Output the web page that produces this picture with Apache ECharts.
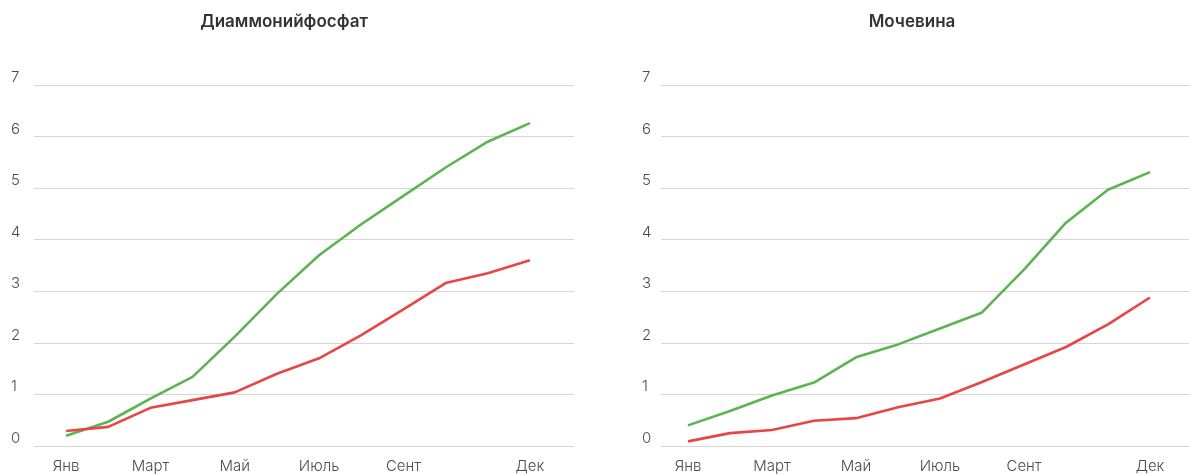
<!DOCTYPE html>
<html><head><meta charset="utf-8">
<script src="https://cdn.jsdelivr.net/npm/echarts@6/dist/echarts.min.js"></script>
<style>html,body{margin:0;padding:0;background:#fff}#c{width:1189px;height:475px}</style>
</head><body><div id="c"></div>
<script>
// ---- data ----
const categories = ['Янв','Фев','Март','Апр','Май','Июнь','Июль','Авг','Сент','Окт','Нояб','Дек'];
const shownLabels = ['Янв','Март','Май','Июль','Сент','Дек'];
const yMin = 0, yMax = 7, yStep = 1;
const titles = ['Диаммонийфосфат', 'Мочевина'];
const dapGreen  = [0.20, 0.47, 0.92, 1.34, 2.12, 2.95, 3.70, 4.30, 4.85, 5.40, 5.90, 6.26];
const dapRed    = [0.29, 0.37, 0.74, 0.89, 1.04, 1.40, 1.70, 2.15, 2.65, 3.16, 3.35, 3.60];
const ureaGreen = [0.40, 0.68, 0.98, 1.23, 1.72, 1.97, 2.28, 2.59, 3.42, 4.33, 4.97, 5.31];
const ureaRed   = [0.09, 0.25, 0.31, 0.49, 0.54, 0.75, 0.92, 1.24, 1.58, 1.92, 2.36, 2.88];

const FONT = 'Inter, "Noto Sans", sans-serif';
const GREEN = '#5cb450', RED = '#e84545';
const TOP = 85, BOTTOM = 29;

const chart = echarts.init(document.getElementById('c'), null, {renderer: 'canvas'});

const labelIdx = shownLabels.map(l => categories.indexOf(l));

function splitY(grid, margin) {
  return {
    gridIndex: grid, type: 'value', min: yMin, max: yMax, interval: yStep,
    axisLine: {show: false}, axisTick: {show: false},
    splitLine: {show: true, lineStyle: {color: '#d6d6d6', width: 1}},
    axisLabel: {show: true, align: 'left', verticalAlign: 'bottom', margin: margin,
      color: '#4d4d4d', fontSize: 15, fontFamily: FONT, fontWeight: 300}
  };
}
function hiddenY(grid) {
  return {gridIndex: grid, type: 'value', min: yMin, max: yMax, interval: yStep, show: false, splitLine: {show: false}};
}
function hiddenX(grid) {
  return {gridIndex: grid, type: 'category', data: categories, show: false};
}
function dataX(grid) {
  return {
    gridIndex: grid, type: 'category', data: categories, boundaryGap: true,
    axisLine: {show: false}, axisTick: {show: false}, splitLine: {show: false},
    axisLabel: {interval: (i) => labelIdx.includes(i), margin: 13, color: '#4d4d4d',
      fontSize: 15, fontFamily: FONT, fontWeight: 300}
  };
}
function line(name, data, xi, yi, color) {
  return {name, type: 'line', data, xAxisIndex: xi, yAxisIndex: yi, symbol: 'none',
    lineStyle: {color, width: 2.6}, itemStyle: {color}, smooth: false, animation: false};
}

chart.setOption({
  animation: false,
  title: [
    {text: titles[0], left: 284, top: 13, textAlign: 'center', padding: 0,
     textStyle: {fontFamily: FONT, fontSize: 17, fontWeight: 600, color: '#333'}},
    {text: titles[1], left: 912, top: 13, textAlign: 'center', padding: 0,
     textStyle: {fontFamily: FONT, fontSize: 17, fontWeight: 600, color: '#333'}}
  ],
  grid: [
    {left: 34, width: 540, top: TOP, bottom: BOTTOM},
    {left: 45, width: 506, top: TOP, bottom: BOTTOM},
    {left: 661, width: 528, top: TOP, bottom: BOTTOM},
    {left: 667, width: 504, top: TOP, bottom: BOTTOM}
  ],
  xAxis: [hiddenX(0), dataX(1), hiddenX(2), dataX(3)],
  yAxis: [splitY(0, 23), hiddenY(1), splitY(2, 19), hiddenY(3)],
  series: [
    line('Диаммонийфосфат — зелёная', dapGreen, 1, 1, GREEN),
    line('Диаммонийфосфат — красная', dapRed, 1, 1, RED),
    line('Мочевина — зелёная', ureaGreen, 3, 3, GREEN),
    line('Мочевина — красная', ureaRed, 3, 3, RED)
  ]
});
</script></body></html>
